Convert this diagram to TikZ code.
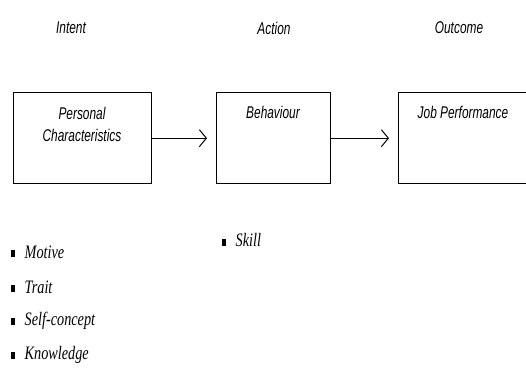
\documentclass[tikz,border=0pt]{standalone}
\usepackage{fontspec}
\usetikzlibrary{arrows.meta}
\newfontfamily\narrowsans{Liberation Sans}[FakeStretch=0.7]
\newfontfamily\narrowserif{Liberation Serif}[FakeStretch=0.75]
\newcommand{\sqbul}{\rule[0.1ex]{3.5pt}{7pt}\hspace{10pt}}
\begin{document}
\begin{tikzpicture}
            [x=1pt,y=-1pt,
             box/.style={draw=black,line width=1.4pt,inner sep=0pt,anchor=north west},
             title/.style={font=\narrowsans\itshape\fontsize{17}{22}\selectfont},
             boxtext/.style={font=\narrowsans\itshape\fontsize{17}{22}\selectfont,align=center},
             item/.style={anchor=west,inner sep=0pt,font=\narrowserif\itshape\fontsize{19}{20}\selectfont},
             link/.style={line width=1.4pt,-{Straight Barb[length=7pt,width=17pt,line width=1pt]},shorten >=9pt}]
            \useasboundingbox (0,0) rectangle (526,367);
            \node[title] (intent) at (71,28) {Intent};
            \node[title] (action) at (274,28) {Action};
            \node[title] (outcome) at (459,28) {Outcome};
            \node[box,minimum width=138pt,minimum height=91pt] (pc) at (13,92) {};
            \node[box,minimum width=114pt,minimum height=91pt] (beh) at (216,92) {};
            \node[box,minimum width=145pt,minimum height=91pt] (jp) at (398,92) {};
            \node[boxtext] (pctext) at (82,124) {Personal\\Characteristics};
            \node[boxtext] (behtext) at (273,112) {Behaviour};
            \node[boxtext] (jptext) at (463,112) {Job Performance};
            \draw[link] (pc.east) -- (pc.east -| beh.west);
            \draw[link] (beh.east) -- (beh.east -| jp.west);
            \node[item] (skill) at (222,240) {\sqbul Skill};
            \node[item] (motive) at (11,252) {\sqbul Motive};
            \node[item] (trait) at (11,287) {\sqbul Trait};
            \node[item] (self) at (11,321) {\sqbul Self-concept};
            \node[item] (know) at (11,355) {\sqbul Knowledge};
        \end{tikzpicture}
\end{document}
